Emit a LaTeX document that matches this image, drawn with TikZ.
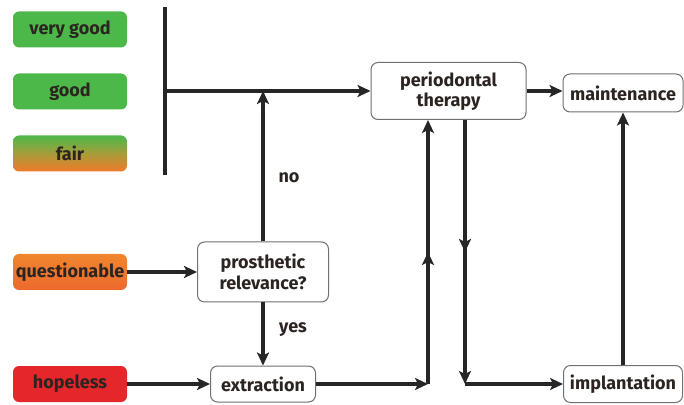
\documentclass[tikz,border=0pt]{standalone}
\usepackage{fontspec}
\setmainfont{Fira Sans}
\usetikzlibrary{arrows.meta,decorations.markings}
\definecolor{gr}{HTML}{4DB84A}
\definecolor{orng}{HTML}{F0862E}
\definecolor{rd}{HTML}{E5262A}
\definecolor{txt}{HTML}{2B2420}
\definecolor{edge}{HTML}{707070}
\begin{document}
\begin{tikzpicture}[x=0.5pt,y=-0.5pt,
  every node/.style={font=\fontsize{9}{10.2}\selectfont\bfseries, text=txt, align=center, inner sep=1pt},
  grade/.style={rounded corners=3pt, minimum width=57pt, minimum height=18pt},
  stepbox/.style={draw=edge, line width=0.5pt, fill=white, rounded corners=3.5pt},
  conn/.style={line width=1.8pt, draw=black!85},
  tip/.style={-{Stealth[length=6.5pt,width=6pt,inset=1.5pt]}},
  midtip/.style={postaction={decorate}, decoration={markings, mark=at position 0.5 with {\arrow{Stealth[length=6.5pt,width=6pt,inset=1.5pt]}}}}
]
\useasboundingbox (0,0) rectangle (684,405);

% grade boxes
\node[grade, fill=gr] (vg) at (70,29.5) {very good};
\node[grade, fill=gr] (gd) at (70,91.5) {good};
\node[grade, top color=gr, bottom color=orng!90!red, middle color=orng!55!gr] (fr) at (70,153.5) {fair};
\node[grade, top color=orng, bottom color=orng!70!rd] (qu) at (70,272) {questionable};
\node[grade, fill=rd] (hp) at (70,384) {hopeless};

% step boxes
\node[stepbox, minimum width=65.5pt, minimum height=30pt] (pr) at (263,272) {prosthetic\\relevance?};
\node[stepbox, minimum width=52.5pt, minimum height=18pt] (ex) at (263,384) {extraction};
\node[stepbox, minimum width=77.5pt, minimum height=28.5pt] (pt) at (448.5,91) {periodontal\\therapy};
\node[stepbox, minimum width=60pt, minimum height=19pt] (mt) at (623,93) {maintenance};
\node[stepbox, minimum width=59.5pt, minimum height=18.5pt] (im) at (623,384) {implantation};

% bar
\coordinate (bt) at (165,7);
\coordinate (bb) at (165,175);
\coordinate (bj) at (165,91);
\draw[conn] (bt) -- (bb);
\draw[conn, tip] (bj) -- (pt.west);

% prosthetic decisions
\draw[conn, tip] (pr.north) -- (pr.north |- bj);
\node (no) at (289,178) {no};
\draw[conn, tip] (pr.south) -- (ex.north);
\node (yes) at (293,330) {yes};

\draw[conn, tip] (qu.east) -- (pr.west);
\draw[conn, tip] (hp.east) -- (ex.west);

% extraction to periodontal therapy
\coordinate (c1) at (428,384);
\draw[conn, tip] (ex.east) -- (c1);
\draw[conn, tip, midtip] (c1) -- (c1 |- pt.south);

% periodontal therapy to implantation
\coordinate (c2) at (465,384);
\draw[conn, tip, midtip] (c2 |- pt.south) -- (c2);
\draw[conn, tip] (c2) -- (im.west);

\draw[conn, tip] (pt.east) -- (mt.west |- pt.east);
\draw[conn, tip] (im.north) -- (mt.south);
\end{tikzpicture}
\end{document}
